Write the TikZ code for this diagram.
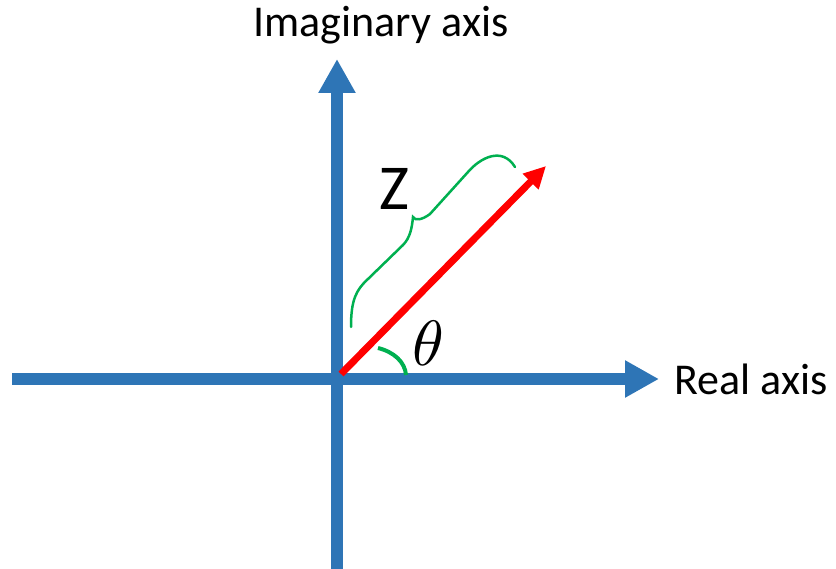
\documentclass[tikz,border=0pt]{standalone}
\usepackage{fontspec}
\setmainfont{Carlito}
\usetikzlibrary{arrows.meta}
\definecolor{axisblue}{RGB}{46,117,182}
\definecolor{vecred}{RGB}{255,0,0}
\definecolor{anggreen}{RGB}{0,176,80}
\tikzset{
  axisline/.style={draw=axisblue, line width=12pt, -{Triangle[length=34pt,width=35pt]}},
  vecline/.style={draw=vecred, line width=7pt, -{Triangle[length=22pt,width=21pt]}},
  greenline/.style={draw=anggreen, line cap=round},
  lbl/.style={inner sep=0pt, anchor=base, font=\fontsize{44}{50}\selectfont},
  biglbl/.style={inner sep=0pt, anchor=base, font=\fontsize{64}{70}\selectfont},
}
\begin{document}
\begin{tikzpicture}[x=1pt,y=-1pt]
\useasboundingbox (0,0) rectangle (836,569);
% axis coordinates
\coordinate (hstart) at (12,379);
\coordinate (hend) at (659,379);
\coordinate (vstart) at (337,569);
\coordinate (vend) at (337,59);
\coordinate (vecstart) at (341,374);
\coordinate (vecend) at (546,166);
% axes
\draw[axisline] (hstart) -- (hend);
\draw[axisline] (vstart) -- (vend);
% vector
\draw[vecline] (vecstart) -- (vecend);
% brace
\coordinate (bs) at (351,327);
\coordinate (bc) at (413,217);
\coordinate (be) at (515,167);
\draw[greenline, line width=2.5pt] (bs) .. controls (351,300) and (356,290) .. (368,279)
  -- (403,245) .. controls (410,238) and (412,228) .. (bc)
  .. controls (415,221) and (422,220) .. (430,214)
  -- (468,172) .. controls (480,158) and (502,146) .. (be);
% angle arc
\coordinate (as) at (378,348);
\coordinate (ae) at (406,375);
\draw[greenline, line width=4pt, line cap=butt] (as) .. controls (394,352) and (405,362) .. (ae);
% labels
\node[lbl] (imag) at (381,37) {Imaginary axis};
\node[lbl, anchor=base west] (real) at (674,395) {Real axis};
\node[biglbl] (z) at (394.5,210) {Z};
\node[inner sep=0pt, anchor=base] (theta) at (428,366) {\scalebox{6.4}{$\theta$}};
\end{tikzpicture}
\end{document}
